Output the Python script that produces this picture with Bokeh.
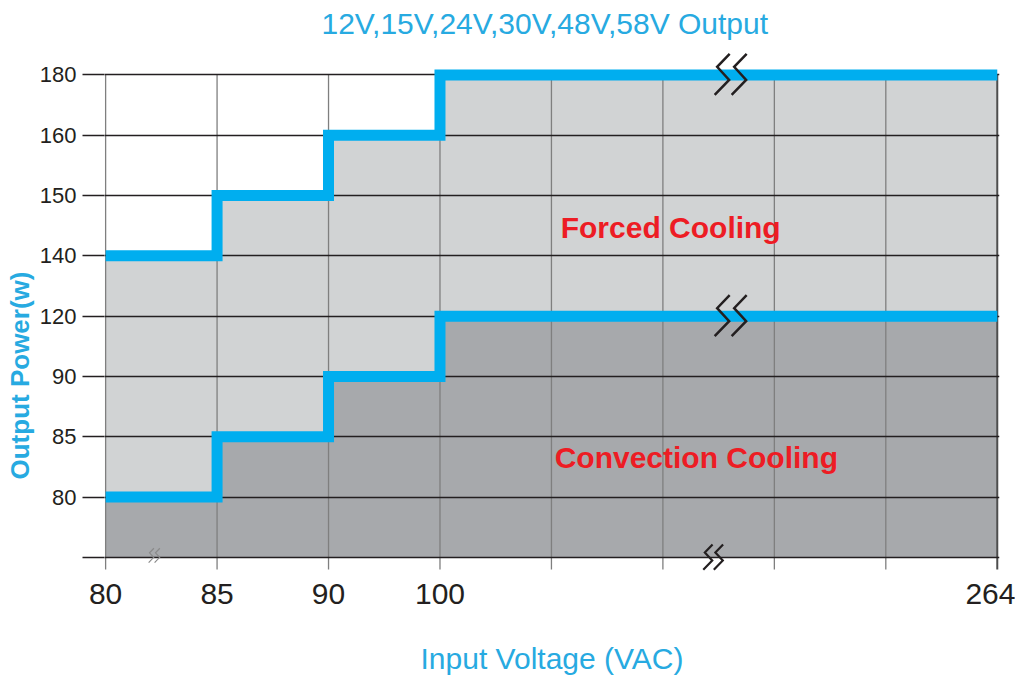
from bokeh.plotting import figure
from bokeh.models import Title
from bokeh.core.properties import value
from bokeh.embed import file_html
from bokeh.resources import INLINE

# ---- data ----
title_text = "12V,15V,24V,30V,48V,58V Output"
x_tick_labels = ["80", "85", "90", "100", "", "", "", "", "264"]
y_tick_labels = ["", "80", "85", "90", "120", "140", "150", "160", "180"]
step_voltages = ["80", "85", "90", "100", "264"]       # step edges (VAC)
forced_power = ["140", "150", "160", "180"]            # W, forced cooling
convection_power = ["80", "85", "90", "120"]           # W, convection cooling
region_names = ["Forced Cooling", "Convection Cooling"]

# ---- styling ----
FONT = "Liberation Sans"
BLUE = "#00aeef"
TXT_BLUE = "#27aae1"
RED = "#ed1c24"
LIGHT = "#d1d3d4"
DARK = "#a7a9ac"
INK = "#231f20"

XU = 111.5   # px per x unit
YU = 60.32   # px per y unit

xpos = [x_tick_labels.index(v) for v in step_voltages]
up = [y_tick_labels.index(v) for v in forced_power]
lo = [y_tick_labels.index(v) for v in convection_power]

# the frame reaches up to the page top so that the title can sit close to the edge
p = figure(frame_width=895, frame_height=570, x_range=(-0.01, 8.02), y_range=(-0.25, 9.2),
           output_backend="svg", toolbar_location=None,
           min_border_left=104, min_border_right=16, min_border_top=2, min_border_bottom=60)
p.outline_line_color = None
p.background_fill_color = "white"


def step_polygon(edges, vals):
    xs, ys = [edges[0]], [0]
    for i, v in enumerate(vals):
        xs += [edges[i], edges[i + 1]]
        ys += [v, v]
    xs.append(edges[-1])
    ys.append(0)
    return xs, ys


ux, uy = step_polygon(xpos, up)
lx, ly = step_polygon(xpos, lo)
p.patch(ux, uy, fill_color=LIGHT, line_color=None, level="underlay")
p.patch(lx, ly, fill_color=DARK, line_color=None, level="underlay")

# vertical grid lines (from tick length below the axis up to the top tick)
ticks = list(range(len(x_tick_labels)))
top = len(y_tick_labels) - 1
tick_len = -12 / YU
n = len(ticks) - 1
p.segment(x0=ticks[:-1], y0=[tick_len] * n, x1=ticks[:-1], y1=[top] * n,
          line_color="#7f7f7f", line_width=1.3, level="underlay")
p.segment(x0=[ticks[-1]], y0=[tick_len], x1=[ticks[-1]], y1=[top],
          line_color="#4d4d4d", line_width=2, level="underlay")

p.xgrid.visible = False
p.ygrid.ticker = list(range(len(y_tick_labels)))
p.ygrid.grid_line_color = INK
p.ygrid.grid_line_width = 1.4

# step lines
for vals in (up, lo):
    p.step(xpos, vals + [vals[-1]], mode="after", line_color=BLUE, line_width=11,
           line_join="miter", line_cap="butt")

# axes
p.xaxis.ticker = ticks
p.xaxis.major_label_overrides = {i: t for i, t in enumerate(x_tick_labels)}
p.xaxis.major_tick_out = 0
p.xaxis.major_tick_in = 0
p.xaxis.major_tick_line_color = None
p.xaxis.minor_tick_line_color = None
p.xaxis.axis_line_color = None
p.xaxis.major_label_standoff = 11
p.xaxis.major_label_text_font = FONT
p.xaxis.major_label_text_font_size = "30px"
p.xaxis.major_label_text_color = INK
p.xaxis.axis_label = "Input Voltage (VAC)"
p.xaxis.axis_label_text_font = FONT
p.xaxis.axis_label_text_font_size = "30px"
p.xaxis.axis_label_text_font_style = "normal"
p.xaxis.axis_label_text_color = TXT_BLUE
p.xaxis.axis_label_standoff = 35

p.yaxis.ticker = list(range(len(y_tick_labels)))
p.yaxis.major_label_overrides = {i: t for i, t in enumerate(y_tick_labels)}
p.yaxis.major_tick_out = 22
p.yaxis.major_tick_in = 0
p.yaxis.minor_tick_line_color = None
p.yaxis.major_tick_line_color = INK
p.yaxis.major_tick_line_width = 1.4
p.yaxis.axis_line_color = None
p.yaxis.major_label_standoff = 6
p.yaxis.major_label_text_font = FONT
p.yaxis.major_label_text_font_size = "22px"
p.yaxis.major_label_text_color = INK

# y axis title (offset along the axis, as in the original); offset counts from frame bottom
p.add_layout(Title(text="Output Power(w)", align="left", offset=93, standoff=4,
                   text_font=FONT, text_font_size="26px", text_font_style="bold",
                   text_color=TXT_BLUE), "left")

# chart title
p.text(x=[3.94], y=[8.85], text=[title_text], text_align="center", text_baseline="middle",
       text_font=value(FONT), text_font_size="30px", text_color=TXT_BLUE)

# region labels
p.text(x=[5.07, 5.3], y=[5.47, 1.66], text=region_names, text_align="center",
       text_baseline="middle", text_font=value(FONT), text_font_size="30px",
       text_font_style="bold", text_color=RED)

# axis-break marks
break_x = [5.59, 5.59, 5.44, 0.43]
break_y = [8.0, 4.0, 0.0, 0.03]
break_scale = [1.0, 1.0, 0.62, 0.35]
break_color = [INK, INK, INK, "#8a8a8a"]
break_width = [2.5, 2.5, 2.2, 1.2]
shape = [(1, -21), (-11.5, -8), (0.5, 5), (-14, 20)]
for bx, by, s, c, w in zip(break_x, break_y, break_scale, break_color, break_width):
    xs, ys = [], []
    for off in (0, 17):
        xs.append([bx + (dx + off) * s / XU for dx, dy in shape])
        ys.append([by - dy * s / YU for dx, dy in shape])
    p.multi_line(xs, ys, line_color=c, line_width=w, line_join="miter")

open("out.html", "w").write(file_html(p, INLINE))
